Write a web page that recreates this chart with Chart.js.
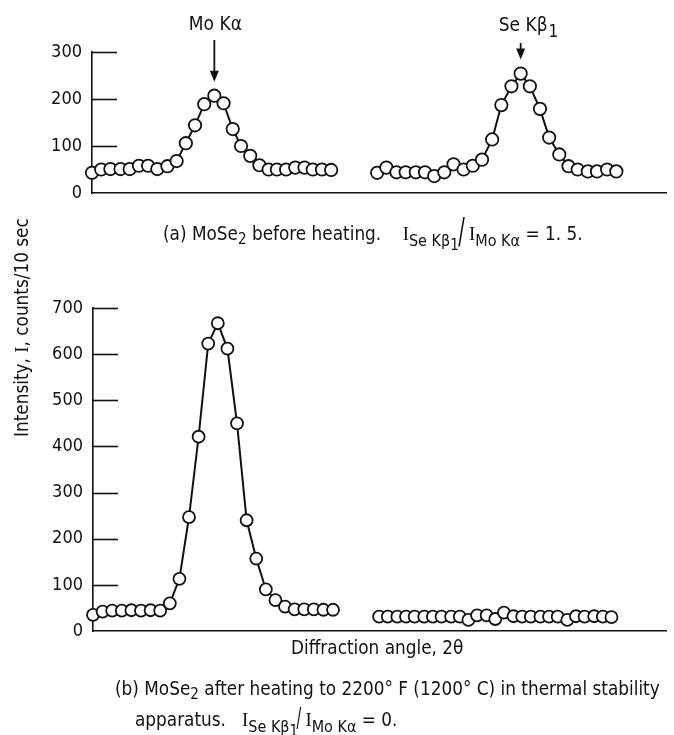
<!DOCTYPE html>
<html>
<head>
<meta charset="utf-8">
<script src="https://cdn.jsdelivr.net/npm/chart.js@4.4.0/dist/chart.umd.min.js"></script>
<style>
  body { margin: 0; background: #fff; }
  #wrap { position: relative; width: 674px; height: 735px; background: #fff; overflow: hidden; }
  canvas { position: absolute; left: 0; top: 0; }
  .txt { position: absolute; font-family: 'Liberation Sans Narrow', 'DejaVu Sans Condensed', sans-serif; font-size: 18.8px; color: #111; white-space: nowrap; line-height: 20px; }
  .ser { font-family: 'Liberation Serif', serif; }
  .sb { font-size: 16px; position: relative; top: 6px; }
  .sb2 { font-size: 15px; position: relative; top: 4px; }
  .slash { font-size: 36px; position: relative; top: 3px; font-weight: 300; transform: scaleX(0.6); display: inline-block; margin: 0 -3px; }
  #ylab { transform: rotate(-90deg); transform-origin: center center; }
</style>
</head>
<body>
<div id="wrap">
  <canvas id="topChart" width="674" height="735"></canvas>
  <canvas id="bottomChart" width="674" height="735"></canvas>

  <div class="txt" style="left:163px; top:218px;">(a) MoSe<span class="sb2">2</span> before heating.&nbsp;&nbsp;&nbsp; <span class="ser">I</span><span class="sb">Se Kβ<span class="sb2">1</span></span><span class="slash">/</span> <span class="ser">I</span><span class="sb">Mo Kα</span> = 1. 5.</div>
  <div class="txt" id="ylab" style="left:-83px; top:322px; width:210px; text-align:center;">Intensity, <span class="ser">I</span>, counts/10 sec</div>
  <div class="txt" style="left:291px; top:638px;">Diffraction angle, 2θ</div>
  <div class="txt" style="left:115px; top:679px;">(b) MoSe<span class="sb2">2</span> after heating to 2200° F (1200° C) in thermal stability</div>
  <div class="txt" style="left:135px; top:707px;">apparatus.&nbsp;&nbsp; <span class="ser">I</span><span class="sb">Se Kβ<span class="sb2">1</span></span><span class="slash" style="font-size:26px;top:1px;">/</span> <span class="ser">I</span><span class="sb">Mo Kα</span> = 0.</div>
</div>

<script>
// (a) before heating - Mo K-alpha peak region and Se K-beta1 peak region
const topMoX = [0, 1.0, 2.0, 3.1, 4.1, 5.1, 6.1, 7.1, 8.2, 9.2, 10.2, 11.2, 12.2, 13.3, 14.3, 15.3, 16.2, 17.2, 18.2, 19.2, 20.1, 21.1, 22.1, 23.1, 24.0, 25.0, 26.0];
const topMoY = [43, 50, 51, 51, 51, 58, 58, 51, 57, 68, 106, 144, 189, 207, 191, 136, 100, 79, 59, 50, 50, 50, 54, 54, 50, 50, 49];
const topSeX = [31, 32.0, 33.1, 34.1, 35.2, 36.2, 37.2, 38.3, 39.3, 40.4, 41.4, 42.4, 43.5, 44.5, 45.6, 46.6, 47.6, 48.7, 49.7, 50.8, 51.8, 52.8, 53.9, 54.9, 56.0, 57.0];
const topSeY = [43, 54, 44, 44, 44, 44, 36, 44, 61, 50, 58, 71, 114, 187, 227, 254, 227, 179, 118, 82, 57, 50, 46, 46, 50, 46];
const topTicks = [0, 100, 200, 300];

// (b) after heating to 2200 F
const botMoX = [0, 1, 2, 3, 4, 5, 6, 7, 8, 9, 10, 11, 12, 13, 14, 15, 16, 17, 18, 19, 20, 21, 22, 23, 24, 25];
const botMoY = [35, 42, 44, 44, 45, 44, 45, 44, 60, 113, 247, 421, 623, 667, 612, 450, 240, 157, 90, 67, 53, 47, 47, 47, 46, 46];
const botSeX = [29.8, 30.7, 31.7, 32.6, 33.5, 34.5, 35.4, 36.3, 37.3, 38.2, 39.1, 40.0, 41.0, 41.9, 42.8, 43.8, 44.7, 45.6, 46.6, 47.5, 48.4, 49.4, 50.3, 51.2, 52.2, 53.1, 54.0];
const botSeY = [31, 31, 31, 31, 31, 31, 31, 31, 31, 31, 24, 34, 34, 26, 40, 32, 31, 31, 31, 31, 31, 24, 32, 31, 32, 31, 30];
const botTicks = [0, 100, 200, 300, 400, 500, 600, 700];

const peakNames = ['Mo Kα', 'Se Kβ'];

Chart.defaults.font.family = "'Liberation Sans Narrow', 'DejaVu Sans Condensed', sans-serif";
Chart.defaults.color = '#111';

function toPoints(xs, ys) {
  return xs.map((x, i) => ({ x: x, y: ys[i] }));
}

function series(xs, ys, r) {
  return {
    data: toPoints(xs, ys),
    borderColor: '#111',
    borderWidth: 2,
    pointRadius: r,
    pointBackgroundColor: '#fff',
    pointBorderColor: '#111',
    pointBorderWidth: 1.8,
    tension: 0,
    clip: false
  };
}

// short tick marks drawn inward from the y axis
const inwardTicks = {
  id: 'inwardTicks',
  beforeDatasetsDraw(chart) {
    const { ctx, chartArea, scales: { y } } = chart;
    ctx.save();
    ctx.strokeStyle = '#111';
    ctx.lineWidth = 1.6;
    y.ticks.forEach(t => {
      if (t.value === 0) return;
      const py = Math.round(y.getPixelForValue(t.value)) + 0.5;
      ctx.beginPath();
      ctx.moveTo(chartArea.left, py);
      ctx.lineTo(chartArea.left + 25, py);
      ctx.stroke();
    });
    ctx.restore();
  }
};

// arrows + labels over the two peaks of chart (a)
const peakArrows = {
  id: 'peakArrows',
  afterDraw(chart) {
    const { ctx, scales: { x, y } } = chart;
    ctx.save();
    ctx.fillStyle = '#111';
    ctx.strokeStyle = '#111';
    ctx.lineWidth = 1.8;
    chart.data.datasets.forEach((ds, i) => {
      let top = ds.data[0];
      ds.data.forEach(p => { if (p.y > top.y) top = p; });
      const px = x.getPixelForValue(top.x);
      const tip = y.getPixelForValue(top.y) - 14;
      const start = i === 0 ? 40 : 43;
      ctx.beginPath();
      ctx.moveTo(px, start);
      ctx.lineTo(px, tip - 9);
      ctx.stroke();
      ctx.beginPath();
      ctx.moveTo(px - 4.5, tip - 11);
      ctx.lineTo(px + 4.5, tip - 11);
      ctx.lineTo(px, tip);
      ctx.closePath();
      ctx.fill();
      ctx.font = "19px 'Liberation Sans Narrow', 'DejaVu Sans Condensed', sans-serif";
      ctx.textBaseline = 'alphabetic';
      if (i === 0) {
        ctx.textAlign = 'center';
        ctx.fillText(peakNames[0], px + 1, 30);
      } else {
        const w = ctx.measureText(peakNames[1]).width;
        ctx.textAlign = 'left';
        ctx.fillText(peakNames[1], px - 22, 31);
        ctx.font = "17px 'Liberation Sans Narrow', 'DejaVu Sans Condensed', sans-serif";
        ctx.fillText('1', px - 22 + w + 1, 37);
      }
    });
    ctx.restore();
  }
};

function makeChart(id, sets, yMax, ticks, xMax, axisLeft, padTop, padBottom, extra) {
  return new Chart(document.getElementById(id), {
    type: 'line',
    data: { datasets: sets },
    options: {
      responsive: false,
      animation: false,
      events: [],
      layout: { padding: { left: 0, right: 2, top: padTop, bottom: padBottom } },
      plugins: { legend: { display: false }, tooltip: { enabled: false } },
      scales: {
        x: {
          type: 'linear',
          min: 0,
          max: xMax,
          grid: { display: false },
          ticks: { display: false },
          border: { display: true, color: '#111', width: 1.6 },
          afterFit(scale) { scale.height = 0; }
        },
        y: {
          min: 0,
          max: yMax,
          afterBuildTicks(scale) { scale.ticks = ticks.map(v => ({ value: v })); },
          grid: { display: false, drawTicks: false },
          ticks: { padding: 10, font: { size: 18 }, color: '#111' },
          border: { display: true, color: '#111', width: 1.6 },
          afterFit(scale) { scale.width = axisLeft; }
        }
      }
    },
    plugins: [inwardTicks].concat(extra)
  });
}

makeChart('topChart',
  [series(topMoX, topMoY, 6.2), series(topSeX, topSeY, 6.2)],
  300, topTicks, 62.4, 92, 52, 735 - 193, [peakArrows]);

makeChart('bottomChart',
  [series(botMoX, botMoY, 6), series(botSeX, botSeY, 6)],
  700, botTicks, 59.7, 93, 308, 735 - 631, []);
</script>
</body>
</html>
